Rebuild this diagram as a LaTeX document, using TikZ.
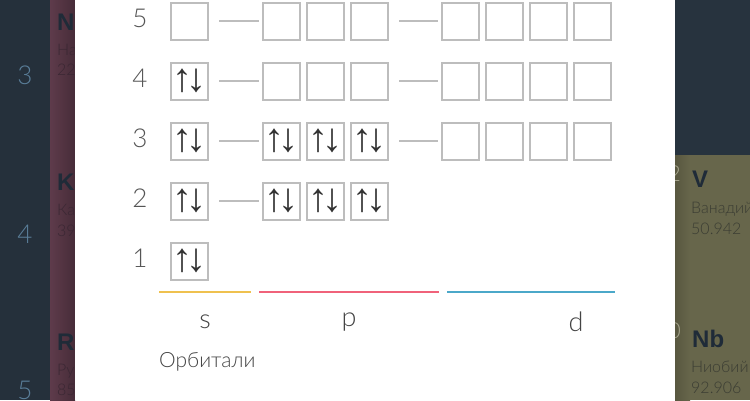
\documentclass[tikz,border=0pt]{standalone}
\usepackage{fontspec}
\setmainfont{Liberation Sans}
\IfFontExistsTF{Lato Light}{\newfontfamily\lightf{Lato Light}}{\newfontfamily\lightf{Liberation Sans}}
\newfontfamily\arrowf{Liberation Sans}
\definecolor{boxgray}{HTML}{BDBDBD}
\definecolor{arrowc}{HTML}{333333}
\definecolor{numc}{HTML}{555555}
\definecolor{lblc}{HTML}{444444}
\definecolor{syel}{HTML}{EFC14F}
\definecolor{pred}{HTML}{F0627A}
\definecolor{dblu}{HTML}{4BA8C9}
\definecolor{navy}{HTML}{25303B}
\definecolor{maroon}{HTML}{5E3B4B}
\definecolor{olive}{HTML}{67664B}
\definecolor{topdark}{HTML}{27333E}
\definecolor{pernum}{HTML}{5A7E99}
\definecolor{symc}{HTML}{1F2B38}
\definecolor{stxt}{HTML}{3A2733}
\definecolor{otxt}{HTML}{3B3D33}
\definecolor{onum}{HTML}{A5A48C}
\newcommand{\updn}{{\arrowf\fontsize{40}{40}\selectfont\color{arrowc}↑\kern-6pt↓}}
\tikzset{
  orb/.style={draw=boxgray, line width=2pt, minimum size=37pt, inner sep=0pt},
  conn/.style={draw=boxgray, line width=2pt, shorten <=10.5pt, shorten >=3pt},
  rowlbl/.style={text=numc, inner sep=0pt, font=\lightf\fontsize{26}{26}\selectfont},
  orblbl/.style={text=lblc, inner sep=0pt, font=\lightf\fontsize{27}{27}\selectfont},
  sym/.style={anchor=base west, inner sep=0pt, text=symc, font=\bfseries\fontsize{24}{24}\selectfont},
  sname/.style={anchor=base west, inner sep=0pt, font=\lightf\fontsize{16}{16}\selectfont},
}
\begin{document}
\begin{tikzpicture}[x=1pt,y=-1pt]
\useasboundingbox (0,0) rectangle (750,400);
% side panels
\fill[navy] (0,0) rectangle (50,400);
\shade[left color=maroon, right color=maroon!75!black] (50,0) rectangle (75,400);
\fill[topdark] (675,0) rectangle (750,155);
\shade[left color=olive!85!black, right color=olive] (675,155) rectangle (690,400);
\fill[olive] (690,155) rectangle (750,400);
% period numbers
\node[rowlbl, text=pernum] (per3) at (25,75) {3};
\node[rowlbl, text=pernum] (per4) at (25,234) {4};
\node[rowlbl, text=pernum] (per5) at (25,390) {5};
% left column elements
\node[sym] (na) at (57,30) {Na};
\node[sname, text=stxt] (nan) at (57,55) {Натрий};
\node[sname, text=stxt] (nam) at (57,75) {22.990};
\node[sym] (k) at (57,190) {K};
\node[sname, text=stxt] (kn) at (57,215) {Калий};
\node[sname, text=stxt] (km) at (57,236) {39.098};
\node[sym] (rb) at (57,350) {Rb};
\node[sname, text=stxt] (rbn) at (57,375) {Рубидий};
\node[sname, text=stxt] (rbm) at (57,395) {85.468};
% right column elements
\node[sname, anchor=base east, text=onum, font=\lightf\fontsize{22}{22}\selectfont] (ti) at (681,181) {22};
\node[sname, anchor=base east, text=onum, font=\lightf\fontsize{22}{22}\selectfont] (zr) at (681,338) {40};
\node[sym] (v) at (692,187) {V};
\node[sname, text=otxt] (vn) at (691,213) {Ванадий};
\node[sname, text=otxt] (vm) at (691,234) {50.942};
\node[sym] (nb) at (692,347) {Nb};
\node[sname, text=otxt] (nbn) at (691,372) {Ниобий};
\node[sname, text=otxt] (nbm) at (691,393) {92.906};
% white panel
\fill[white] (75,0) rectangle (675,400);
% row labels
\foreach \r/\y in {5/21,4/81,3/141,2/201,1/261}
  \node[rowlbl] (n\r) at (140,\y-3) {\r};
% s boxes
\node[orb] (s5) at (189,21) {};
\foreach \r/\y in {4/81,3/141,2/201,1/261}
  \node[orb] (s\r) at (189,\y) {\updn};
% p boxes
\foreach \r/\y in {5/21,4/81}
  \foreach \i/\x in {1/281,2/325,3/369}
    \node[orb] (p\r\i) at (\x,\y) {};
\foreach \r/\y in {3/141,2/201}
  \foreach \i/\x in {1/281,2/325,3/369}
    \node[orb] (p\r\i) at (\x,\y) {\updn};
% d boxes
\foreach \r/\y in {5/21,4/81,3/141}
  \foreach \i/\x in {1/460,2/504,3/548,4/592}
    \node[orb] (d\r\i) at (\x,\y) {};
% connectors
\foreach \r in {5,4,3,2}
  \draw[conn] (s\r) -- (p\r1);
\foreach \r in {5,4,3}
  \draw[conn] (p\r3) -- (d\r1);
% orbital colour bars
\coordinate (ya) at (159,292); \coordinate (yb) at (251,292);
\coordinate (ra) at (259,292); \coordinate (rb2) at (439,292);
\coordinate (ba) at (447,292); \coordinate (bb) at (615,292);
\draw[syel, line width=2pt] (ya) -- (yb);
\draw[pred, line width=2pt] (ra) -- (rb2);
\draw[dblu, line width=2pt] (ba) -- (bb);
% labels
\node[orblbl] (ls) at (205,322) {s};
\node[orblbl] (lp) at (349,322) {p};
\node[orblbl] (ld) at (576,322) {d};
\node[anchor=west, inner sep=0pt, text=lblc, font=\lightf\fontsize{21}{21}\selectfont] (lorb) at (159,362) {Орбитали};
\end{tikzpicture}
\end{document}
